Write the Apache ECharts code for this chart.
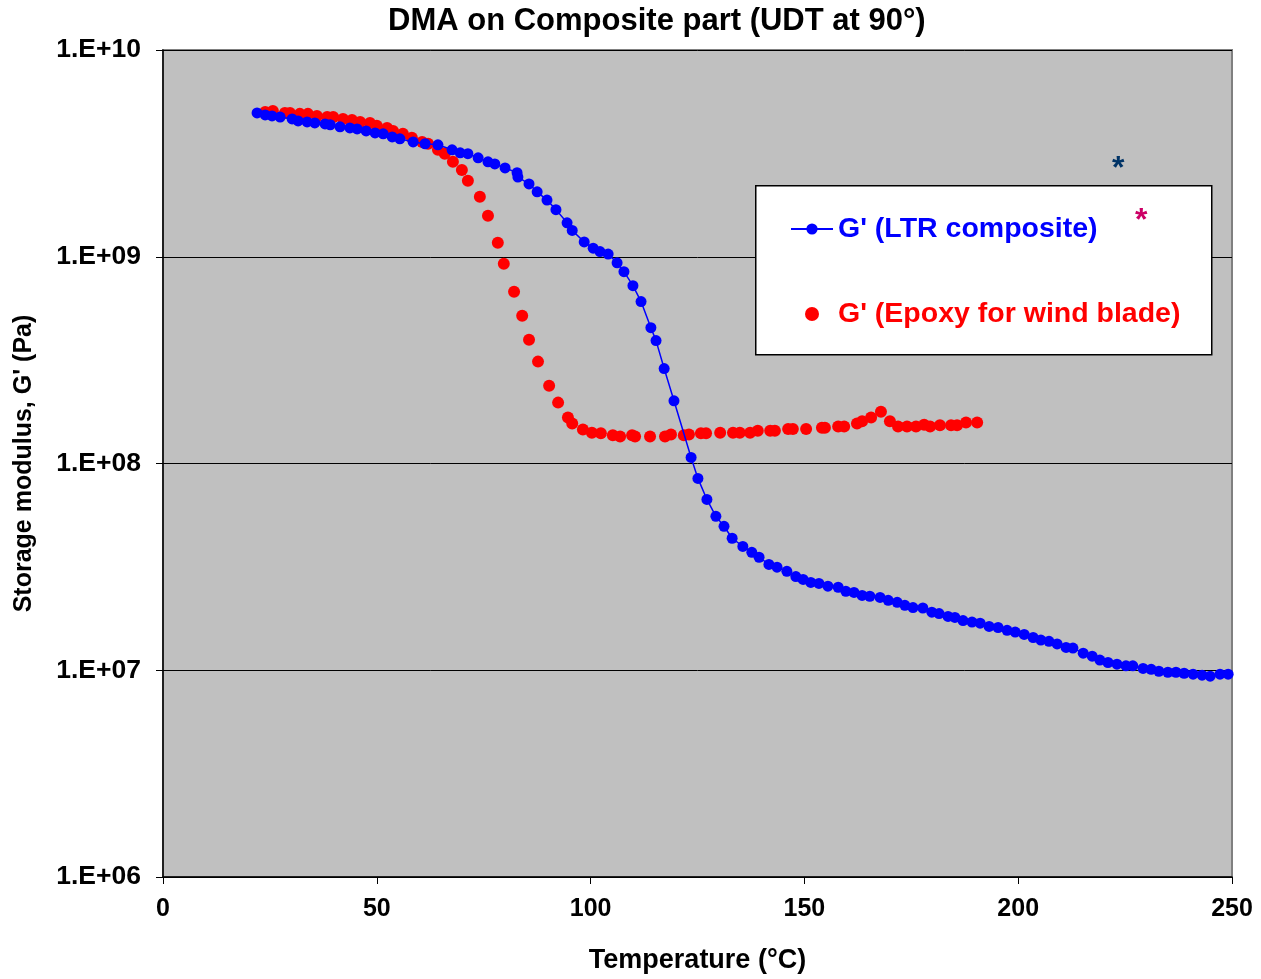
<!DOCTYPE html>
<html>
<head>
<meta charset="utf-8">
<script src="https://cdn.jsdelivr.net/npm/echarts@6/dist/echarts.min.js"></script>
<style>
  html, body { margin: 0; padding: 0; background: #fff; }
  #chart { width: 1261px; height: 979px; }
</style>
</head>
<body>
<div id="chart"></div>
<script>
// 温度 (°C) 与储能模量 G' (Pa)
const ltrTemp = [22.0, 23.9, 25.5, 27.4, 30.2, 31.6, 33.7, 35.5, 37.9, 39.1, 41.4, 43.7, 45.4, 47.5, 49.6, 51.5, 53.6, 55.4, 58.5, 61.3,
    64.3, 67.6, 69.5, 71.3, 73.7, 76.0, 77.6, 80.0, 82.8, 83.0, 85.6, 87.5, 89.8, 91.9, 94.5, 95.7, 98.5, 100.6, 102.2, 104.1,
    106.2, 107.8, 109.9, 111.8, 114.1, 115.3, 117.2, 119.5, 123.5, 125.1, 127.2, 129.3, 131.2, 133.1, 135.6, 137.7, 139.4, 141.7, 143.6, 145.9,
    148.0, 149.7, 151.5, 153.4, 155.5, 157.9, 159.7, 161.6, 163.5, 165.3, 167.7, 169.6, 171.7, 173.5, 175.4, 177.7, 179.8, 181.5, 183.6, 185.2,
    187.1, 189.2, 191.1, 193.2, 195.3, 197.4, 199.3, 201.4, 203.5, 205.3, 207.2, 209.1, 211.2, 212.8, 215.2, 217.3, 219.1, 221.0, 223.1, 225.2,
    226.8, 229.2, 231.1, 232.9, 235.0, 236.9, 238.8, 240.9, 243.0, 244.9, 247.2, 249.1];
const ltrModulus = [4.96e9, 4.85e9, 4.80e9, 4.74e9, 4.64e9, 4.54e9, 4.49e9, 4.44e9, 4.39e9, 4.35e9, 4.25e9, 4.20e9, 4.15e9, 4.06e9, 3.97e9, 3.93e9, 3.80e9, 3.72e9, 3.59e9, 3.52e9,
    3.48e9, 3.29e9, 3.18e9, 3.15e9, 3.01e9, 2.88e9, 2.81e9, 2.69e9, 2.55e9, 2.43e9, 2.25e9, 2.06e9, 1.88e9, 1.69e9, 1.46e9, 1.34e9, 1.18e9, 1.10e9, 1.06e9, 1.03e9,
    9.35e8, 8.47e8, 7.25e8, 6.07e8, 4.54e8, 3.93e8, 2.88e8, 2.01e8, 1.07e8, 8.47e7, 6.70e7, 5.55e7, 4.97e7, 4.35e7, 3.97e7, 3.72e7, 3.52e7, 3.25e7, 3.15e7, 3.01e7,
    2.84e7, 2.75e7, 2.66e7, 2.63e7, 2.55e7, 2.52e7, 2.41e7, 2.38e7, 2.30e7, 2.28e7, 2.25e7, 2.18e7, 2.13e7, 2.06e7, 2.01e7, 2.00e7, 1.91e7, 1.88e7, 1.82e7, 1.80e7,
    1.74e7, 1.71e7, 1.69e7, 1.63e7, 1.61e7, 1.56e7, 1.53e7, 1.49e7, 1.44e7, 1.40e7, 1.38e7, 1.34e7, 1.29e7, 1.28e7, 1.21e7, 1.17e7, 1.12e7, 1.09e7, 1.07e7, 1.05e7,
    1.05e7, 1.02e7, 1.01e7, 9.89e6, 9.78e6, 9.78e6, 9.67e6, 9.57e6, 9.46e6, 9.36e6, 9.57e6, 9.57e6];

const epoxyTemp = [23.9, 25.7, 28.5, 29.7, 32.0, 33.9, 36.0, 38.4, 39.8, 42.1, 44.2, 46.1, 48.4, 50.0, 52.4, 53.8, 56.1, 58.2, 60.6, 62.0,
    64.3, 65.9, 67.8, 69.9, 71.3, 74.1, 76.0, 78.3, 79.7, 82.1, 84.0, 85.6, 87.7, 90.3, 92.4, 94.7, 95.7, 98.2, 100.3, 102.4,
    105.2, 106.9, 109.7, 110.4, 113.9, 117.4, 118.8, 121.8, 123.0, 125.8, 127.0, 130.3, 133.3, 134.9, 137.3, 139.1, 142.0, 143.1, 146.2, 147.3,
    150.4, 154.1, 154.8, 157.9, 159.3, 162.3, 163.5, 165.6, 167.9, 170.0, 171.9, 174.0, 176.1, 178.0, 179.4, 181.7, 184.3, 185.7, 187.8, 190.4];
const epoxyModulus = [5.01e9, 5.07e9, 4.96e9, 4.96e9, 4.91e9, 4.91e9, 4.80e9, 4.74e9, 4.74e9, 4.64e9, 4.59e9, 4.49e9, 4.44e9, 4.30e9, 4.20e9, 4.06e9, 3.93e9, 3.76e9, 3.59e9, 3.52e9,
    3.29e9, 3.15e9, 2.88e9, 2.63e9, 2.33e9, 1.95e9, 1.58e9, 1.17e9, 9.25e8, 6.77e8, 5.19e8, 3.97e8, 3.11e8, 2.38e8, 1.97e8, 1.67e8, 1.56e8, 1.46e8, 1.41e8, 1.40e8,
    1.37e8, 1.35e8, 1.37e8, 1.35e8, 1.35e8, 1.35e8, 1.38e8, 1.37e8, 1.38e8, 1.40e8, 1.40e8, 1.41e8, 1.41e8, 1.41e8, 1.41e8, 1.44e8, 1.44e8, 1.44e8, 1.47e8, 1.47e8,
    1.47e8, 1.49e8, 1.49e8, 1.51e8, 1.51e8, 1.56e8, 1.60e8, 1.67e8, 1.78e8, 1.60e8, 1.51e8, 1.51e8, 1.51e8, 1.54e8, 1.51e8, 1.53e8, 1.53e8, 1.53e8, 1.58e8, 1.58e8];

const seriesNames = ["G' (LTR composite)", "G' (Epoxy for wind blade)"];

const chart = echarts.init(document.getElementById('chart'));
const font = 'Liberation Sans, Arial, sans-serif';

const option = {
    animation: false,
    textStyle: { fontFamily: font },
    title: {
        text: 'DMA on Composite part (UDT at 90°)',
        left: 383,
        top: 1,
        textStyle: { fontSize: 31, fontWeight: 'bold', color: '#000', fontFamily: font }
    },
    grid: {
        left: 163, right: 29, top: 50, bottom: 101,
        show: true,
        backgroundColor: '#c0c0c0',
        borderColor: '#808080',
        borderWidth: 2
    },
    legend: {
        orient: 'vertical',
        left: 785,
        top: 208,
        z: 10,
        itemWidth: 42,
        itemHeight: 14,
        itemGap: 53,
        textStyle: { fontSize: 28.5, fontWeight: 'bold', fontFamily: font, lineHeight: 32 },
        data: [
            { name: seriesNames[0], textStyle: { color: '#0000ff' } },
            { name: seriesNames[1], textStyle: { color: '#ff0000' }, icon: 'circle' }
        ]
    },
    xAxis: {
        type: 'value',
        min: 0, max: 250, interval: 50,
        name: 'Temperature (°C)',
        nameLocation: 'middle',
        nameGap: 70,
        nameTextStyle: { fontSize: 27, fontWeight: 'bold', color: '#000', fontFamily: font },
        axisLine: { lineStyle: { color: '#000', width: 1.5 } },
        axisTick: { inside: false, length: 7, lineStyle: { color: '#000' } },
        axisLabel: { fontSize: 25, fontWeight: 'bold', color: '#000', margin: 20, fontFamily: font },
        splitLine: { show: false }
    },
    yAxis: {
        type: 'log',
        logBase: 10,
        min: 1e6, max: 1e10,
        name: "Storage modulus, G' (Pa)",
        nameLocation: 'middle',
        nameGap: 126,
        nameTextStyle: { fontSize: 25, fontWeight: 'bold', color: '#000', fontFamily: font },
        axisLine: { show: true, lineStyle: { color: '#000', width: 1.5 } },
        axisTick: { show: true, length: 7, lineStyle: { color: '#000' } },
        axisLabel: {
            fontSize: 26.5, fontWeight: 'bold', color: '#000', margin: 22, fontFamily: font,
            formatter: function (v) {
                const e = Math.round(Math.log10(v));
                return '1.E+' + (e < 10 ? '0' + e : e);
            }
        },
        splitLine: { show: true, lineStyle: { color: '#000', width: 1 } }
    },
    series: [
        {
            name: seriesNames[0],
            type: 'line',
            data: ltrTemp.map((t, i) => [t, ltrModulus[i]]),
            symbol: 'circle',
            symbolSize: 11,
            itemStyle: { color: '#0000ff' },
            lineStyle: { color: '#0000ff', width: 1.5 }
        },
        {
            name: seriesNames[1],
            type: 'scatter',
            data: epoxyTemp.map((t, i) => [t, epoxyModulus[i]]),
            symbol: 'circle',
            symbolSize: 12,
            itemStyle: { color: '#ff0000', opacity: 1 }
        }
    ],
    graphic: [
        {
            type: 'rect',
            left: 755, top: 185,
            shape: { width: 456, height: 169 },
            style: { fill: '#fff', stroke: '#000', lineWidth: 1.5 },
            z: 5
        },
        {
            type: 'text',
            left: 1112, top: 153,
            style: { text: '*', fill: '#003366', font: 'bold 32px ' + font },
            z: 6
        },
        {
            type: 'text',
            left: 1135, top: 205,
            style: { text: '*', fill: '#cc0066', font: 'bold 32px ' + font },
            z: 6
        }
    ]
};

chart.setOption(option);

window.addEventListener('resize', function () {
    chart.resize();
});
</script>
</body>
</html>
